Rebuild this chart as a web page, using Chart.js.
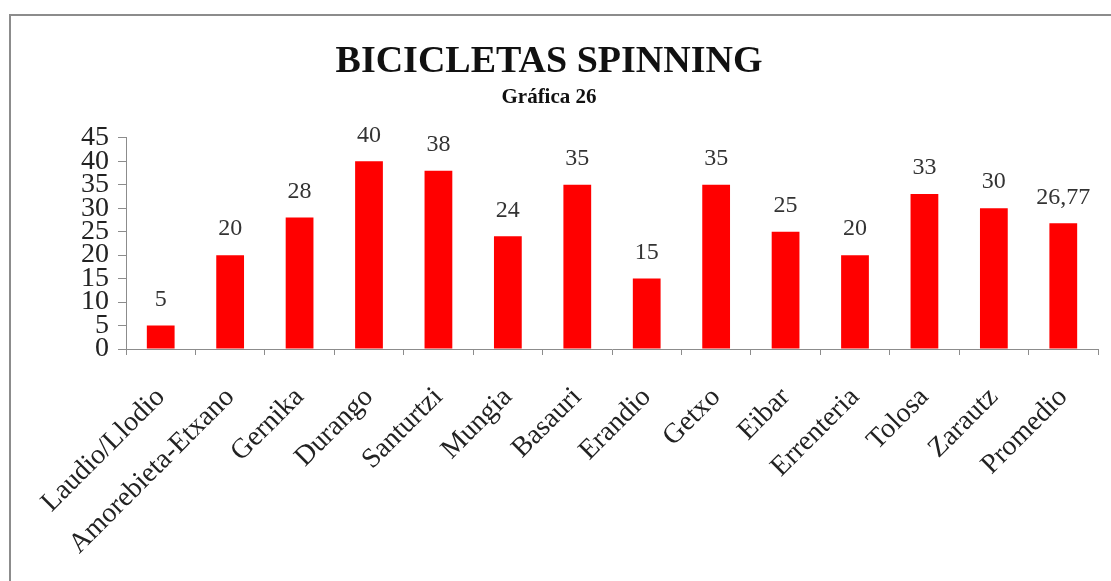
<!DOCTYPE html>
<html>
<head>
<meta charset="utf-8">
<script src="https://cdn.jsdelivr.net/npm/chart.js@4"></script>
<style>
  html, body { margin: 0; padding: 0; background: #fff; overflow: hidden; }
  #frame { position: absolute; left: 9px; top: 14px; width: 1140px; height: 620px; border: 2px solid #8c8c8c; }
  #wrap { position: absolute; left: 0; top: 0; width: 1111px; height: 581px; }
</style>
</head>
<body>
<div id="frame"></div>
<div id="wrap"><canvas id="chart"></canvas></div>
<script>
const municipios = ['Laudio/Llodio', 'Amorebieta-Etxano', 'Gernika', 'Durango', 'Santurtzi', 'Mungia',
  'Basauri', 'Erandio', 'Getxo', 'Eibar', 'Errenteria', 'Tolosa', 'Zarautz', 'Promedio'];
const bicicletas = [5, 20, 28, 40, 38, 24, 35, 15, 35, 25, 20, 33, 30, 26.77];
const yTicks = [0, 5, 10, 15, 20, 25, 30, 35, 40, 45];

const serif = '"Liberation Serif", "DejaVu Serif", serif';

// etiquetas encima de cada barra
const valueLabels = {
  id: 'valueLabels',
  afterDatasetsDraw(chart) {
    const ctx = chart.ctx;
    const meta = chart.getDatasetMeta(0);
    ctx.save();
    ctx.font = '24px ' + serif;
    ctx.fillStyle = '#333';
    ctx.textAlign = 'center';
    ctx.textBaseline = 'middle';
    meta.data.forEach((bar, i) => {
      const v = bicicletas[i];
      const txt = Number.isInteger(v) ? String(v) : v.toFixed(2).replace('.', ',');
      ctx.fillText(txt, bar.x, bar.y - 26);
    });
    ctx.restore();
  }
};

new Chart(document.getElementById('chart'), {
  type: 'bar',
  data: {
    labels: municipios,
    datasets: [{
      data: bicicletas,
      backgroundColor: '#ff0000',
      borderWidth: 0,
      barPercentage: 0.8,
      categoryPercentage: 0.5
    }]
  },
  options: {
    responsive: true,
    maintainAspectRatio: false,
    animation: false,
    layout: { padding: { left: 0, right: 13, top: 0, bottom: 0 } },
    plugins: {
      legend: { display: false },
      tooltip: { enabled: false },
      title: {
        display: true,
        text: 'BICICLETAS SPINNING',
        color: '#111',
        font: { family: serif, size: 38, weight: 'bold' },
        padding: { top: 39, bottom: 0 }
      },
      subtitle: {
        display: true,
        text: 'Gráfica 26',
        color: '#111',
        font: { family: serif, size: 21, weight: 'bold' },
        padding: { top: 0, bottom: 28 }
      }
    },
    scales: {
      y: {
        min: 0,
        max: 45,
        afterBuildTicks: (scale) => { scale.ticks = yTicks.map(v => ({ value: v })); },
        afterFit: (scale) => { scale.width = 126; },
        ticks: {
          color: '#222',
          padding: 9,
          autoSkip: false,
          font: { family: serif, size: 28 }
        },
        grid: { drawOnChartArea: false, drawTicks: true, tickLength: 8, color: '#8c8c8c' },
        border: { display: true, color: '#8c8c8c' }
      },
      x: {
        afterFit: (scale) => {
          scale.height = 232;
          scale.paddingLeft = 0;
          scale.paddingRight = 0;
        },
        ticks: {
          color: '#222',
          minRotation: 45,
          maxRotation: 45,
          autoSkip: false,
          padding: 26,
          font: { family: serif, size: 28 }
        },
        grid: { drawOnChartArea: false, drawTicks: true, tickLength: 6, color: '#8c8c8c', offset: true },
        border: { display: true, color: '#8c8c8c' }
      }
    }
  },
  plugins: [valueLabels]
});
</script>
</body>
</html>
